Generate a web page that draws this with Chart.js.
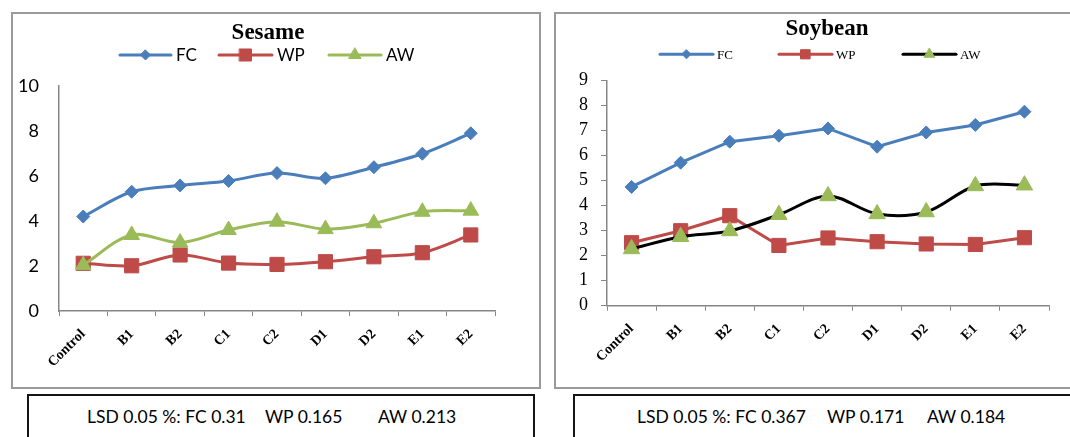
<!DOCTYPE html>
<html>
<head>
<meta charset="utf-8">
<script src="https://cdn.jsdelivr.net/npm/chart.js@4.4.1/dist/chart.umd.min.js"></script>
<style>
  html, body { margin: 0; padding: 0; background: #fff; }
  body { position: relative; width: 1070px; height: 437px; overflow: hidden; }
  .frame { position: absolute; border: 2px solid #9a9a9a; box-sizing: border-box; }
  .plot { position: absolute; }
  .lsd { position: absolute; border: 2px solid #151515; box-sizing: border-box; }
  .lsd-text { position: absolute; font-family: Lato, "Open Sans", sans-serif; font-size: 17.5px; line-height: 17.5px; color: #000; white-space: pre; }
</style>
</head>
<body>
<div class="frame" style="left:11px; top:12px; width:530px; height:377px;"></div>
<div class="frame" style="left:554px; top:12px; width:540px; height:377px;"></div>

<canvas id="sesame" class="plot" width="526" height="373" style="left:13px; top:14px;"></canvas>
<canvas id="soybean" class="plot" width="514" height="373" style="left:556px; top:14px;"></canvas>

<div class="lsd" style="left:27px; top:394px; width:508px; height:60px;"></div>
<div class="lsd" style="left:573px; top:394px; width:520px; height:60px;"></div>
<span class="lsd-text" style="left:87px; top:408px;">LSD 0.05 %: FC 0.31</span>
<span class="lsd-text" style="left:265px; top:408px;">WP 0.165</span>
<span class="lsd-text" style="left:378px; top:408px;">AW 0.213</span>
<span class="lsd-text" style="left:637px; top:408px;">LSD 0.05 %: FC 0.367</span>
<span class="lsd-text" style="left:827px; top:408px;">WP 0.171</span>
<span class="lsd-text" style="left:927px; top:408px;">AW 0.184</span>

<script>
// Treatments on the x axis
const categories = ['Control', 'B1', 'B2', 'C1', 'C2', 'D1', 'D2', 'E1', 'E2'];

// Sesame: field capacity, wilting point, available water
const sesameFC = [4.2, 5.3, 5.58, 5.78, 6.13, 5.9, 6.39, 6.99, 7.9];
const sesameWP = [2.12, 2.01, 2.49, 2.13, 2.07, 2.19, 2.41, 2.59, 3.38];
const sesameAW = [2.04, 3.38, 3.04, 3.6, 3.97, 3.64, 3.9, 4.41, 4.46];

// Soybean: field capacity, wilting point, available water
const soybeanFC = [4.75, 5.72, 6.56, 6.8, 7.09, 6.36, 6.93, 7.23, 7.76];
const soybeanWP = [2.52, 3.0, 3.6, 2.41, 2.71, 2.56, 2.47, 2.45, 2.72];
const soybeanAW = [2.27, 2.76, 2.99, 3.64, 4.39, 3.67, 3.75, 4.79, 4.82];

// Value axis ranges
const sesameAxis = { min: 0, max: 10, step: 2 };
const soybeanAxis = { min: 0, max: 9, step: 1 };

const BLUE = '#4A7EBB';
const RED = '#BE4B48';
const GREEN = '#9BBB59';
const AXIS = '#868686';

// Marker shapes for the header legend, same geometry as Chart.js point styles
function drawMarker(ctx, style, x, y, r, color) {
  ctx.save();
  ctx.fillStyle = color;
  ctx.strokeStyle = color;
  ctx.lineWidth = 1;
  ctx.beginPath();
  if (style === 'rectRot') {
    ctx.moveTo(x, y - r); ctx.lineTo(x + r, y); ctx.lineTo(x, y + r); ctx.lineTo(x - r, y);
  } else if (style === 'rect') {
    const s = r * Math.SQRT1_2;
    ctx.rect(x - s, y - s, 2 * s, 2 * s);
  } else {
    const a = 2 * Math.PI / 3;
    ctx.moveTo(x, y - r);
    ctx.lineTo(x + r * Math.sin(a), y - r * Math.cos(a));
    ctx.lineTo(x - r * Math.sin(a), y - r * Math.cos(a));
  }
  ctx.closePath();
  ctx.fill();
  ctx.stroke();
  ctx.restore();
}

// Title and line+marker legend drawn above the plot area
const headerPlugin = {
  id: 'header',
  afterDraw(chart, args, o) {
    const ctx = chart.ctx;
    ctx.save();
    ctx.fillStyle = '#000';
    ctx.textBaseline = 'alphabetic';
    ctx.textAlign = 'center';
    ctx.font = o.titleFont;
    ctx.fillText(o.title, o.titleX, o.titleY);
    chart.data.datasets.forEach((ds, i) => {
      const it = o.items[i];
      ctx.strokeStyle = ds.borderColor;
      ctx.lineWidth = 3;
      ctx.lineCap = 'round';
      ctx.beginPath();
      ctx.moveTo(it.x0, o.legendY);
      ctx.lineTo(it.x1, o.legendY);
      ctx.stroke();
      drawMarker(ctx, ds.pointStyle, (it.x0 + it.x1) / 2, o.legendY, it.r, ds.pointBackgroundColor);
      ctx.fillStyle = '#000';
      ctx.font = o.legendFont;
      ctx.textAlign = 'left';
      ctx.fillText(ds.label, it.x1 + o.gap, o.textY);
    });
    ctx.restore();
  }
};

function series(label, data, line, marker, style, radius, tension, order) {
  return {
    label, data, order, tension,
    borderColor: line,
    backgroundColor: marker,
    borderWidth: 3,
    pointStyle: style,
    pointRadius: radius,
    pointBackgroundColor: marker,
    pointBorderColor: marker,
    pointBorderWidth: 1,
    fill: false
  };
}

function buildChart(id, datasets, axis, look) {
  return new Chart(document.getElementById(id), {
    type: 'line',
    data: { labels: categories, datasets },
    plugins: [headerPlugin],
    options: {
      responsive: false,
      animation: false,
      events: [],
      layout: { padding: look.padding },
      plugins: {
        legend: { display: false },
        tooltip: { enabled: false },
        header: look.header
      },
      scales: {
        x: {
          type: 'category',
          offset: true,
          grid: { display: true, offset: true, drawOnChartArea: false, drawTicks: true, tickLength: 5, color: AXIS, lineWidth: 1 },
          border: { display: true, color: AXIS, width: 1.5 },
          ticks: {
            autoSkip: false, maxRotation: 45, minRotation: 45, padding: look.xPad,
            color: '#000',
            font: { family: '"Liberation Serif", "Times New Roman", serif', size: 14, weight: 'bold' }
          },
          afterFit(s) { s.height = look.xHeight; }
        },
        y: {
          min: axis.min, max: axis.max,
          grid: look.yGrid,
          border: { display: true, color: AXIS, width: 1.5 },
          ticks: { stepSize: axis.step, padding: look.yPad, color: '#000', font: look.yFont },
          afterFit(s) { s.width = look.yWidth; }
        }
      }
    }
  });
}

buildChart('sesame', [
  series('FC', sesameFC, BLUE, BLUE, 'rectRot', 6.5, 0.33, 3),
  series('WP', sesameWP, RED, RED, 'rect', 10, 0.33, 2),
  series('AW', sesameAW, GREEN, GREEN, 'triangle', 9, 0.33, 1)
], sesameAxis, {
  padding: { top: 72, right: 44, left: 0, bottom: 0 },
  xHeight: 76, xPad: 10,
  yWidth: 46, yPad: 20,
  yGrid: { display: true, drawOnChartArea: false, drawTicks: false },
  yFont: { family: 'Lato, "Open Sans", sans-serif', size: 18 },
  header: {
    title: 'Sesame', titleFont: 'bold 23px "Liberation Serif", "Times New Roman", serif',
    titleX: 255, titleY: 25,
    legendFont: '17px Lato, "Open Sans", sans-serif', legendY: 41, textY: 47, gap: 5,
    items: [ { x0: 107, x1: 158, r: 5 }, { x0: 206, x1: 259, r: 8.5 }, { x0: 316, x1: 368, r: 7 } ]
  }
});

buildChart('soybean', [
  series('FC', soybeanFC, BLUE, BLUE, 'rectRot', 6.5, 0, 3),
  series('WP', soybeanWP, RED, RED, 'rect', 10, 0, 2),
  series('AW', soybeanAW, '#000000', GREEN, 'triangle', 9.5, 0.33, 1)
], soybeanAxis, {
  padding: { top: 66.7, right: 21, left: 0, bottom: 0 },
  xHeight: 81.3, xPad: 10,
  yWidth: 51, yPad: 13,
  yGrid: { display: true, drawOnChartArea: false, drawTicks: true, tickLength: 6, color: AXIS, lineWidth: 1 },
  yFont: { family: '"Liberation Serif", "Times New Roman", serif', size: 18 },
  header: {
    title: 'Soybean', titleFont: 'bold 23px "Liberation Serif", "Times New Roman", serif',
    titleX: 271, titleY: 21,
    legendFont: '13px "Liberation Serif", "Times New Roman", serif', legendY: 40.3, textY: 45, gap: 4,
    items: [ { x0: 104, x1: 157, r: 4.5 }, { x0: 223, x1: 276, r: 6.5 }, { x0: 347, x1: 400, r: 6 } ]
  }
});
</script>
</body>
</html>
